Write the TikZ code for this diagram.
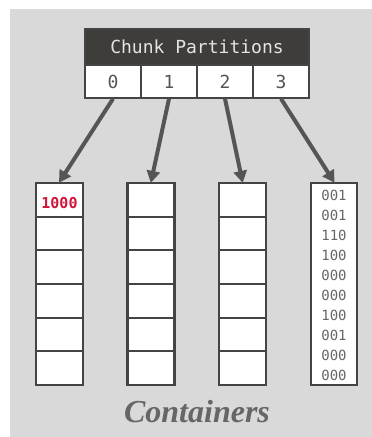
\documentclass[tikz,border=0pt]{standalone}
\usepackage{fontspec}
\usetikzlibrary{arrows.meta}
\newfontfamily\codefont{DejaVu Sans Mono}
\newfontfamily\titlefont{Liberation Serif}
\definecolor{panel}{HTML}{D9D9D9}
\definecolor{ink}{HTML}{444444}
\definecolor{headfill}{HTML}{3F3D3A}
\definecolor{headtext}{HTML}{E4E4E4}
\definecolor{digit}{HTML}{555555}
\definecolor{hot}{HTML}{D0143A}
\definecolor{caption}{HTML}{666666}
\definecolor{bits}{HTML}{666666}
\definecolor{wire}{HTML}{555555}

\begin{document}
\begin{tikzpicture}[x=1pt,y=-1pt,
  hdr/.style={draw=ink, fill=headfill, line width=1.5pt, text=headtext,
    font=\codefont\fontsize{18}{18}\selectfont,
    minimum width=224pt, minimum height=36pt, inner sep=0pt},
  pcell/.style={draw=ink, fill=white, line width=1.5pt, text=digit,
    font=\codefont\fontsize{18}{18}\selectfont,
    minimum width=56pt, minimum height=33pt, inner sep=0pt},
  slot/.style={draw=ink, fill=white, line width=2.2pt,
    minimum width=47pt, minimum height=33.67pt, inner sep=0pt},
  column/.style={draw=ink, fill=white, line width=2.2pt,
    minimum width=46pt, minimum height=202pt, inner sep=0pt},
  bitrow/.style={text=bits, font=\codefont\fontsize{14}{14}\selectfont, inner sep=0pt},
  feed/.style={draw=wire, line width=4pt,
    -{Triangle[length=12pt,width=13pt]}, shorten >=-1pt},
]
% canvas and grey panel
\useasboundingbox (0,0) rectangle (372,437);
\fill[panel] (10,9) rectangle (372,437);

% partition header and its four slots
\node[hdr] (head) at (197,47) {Chunk Partitions};
\foreach \i/\x in {0/113,1/169,2/225,3/281}
  \node[pcell] (p\i) at (\x,81.5) {\i};

% three containers of six slots each
\foreach \c/\x in {0/59.5,1/151,2/242.5}
  \foreach \k in {0,...,5}
    \node[slot] (c\c-\k) at (\x,{183+33.67*(\k+0.5)}) {};

% first entry written into container 0
\node[text=hot, font=\codefont\bfseries\fontsize{15}{15}\selectfont, inner sep=0pt]
  (entry) at ([yshift=-3pt]c0-0.center) {1000};

% fourth container holding packed bits
\node[column] (c3-0) at (334,284) {};
\foreach \k/\v in {0/001,1/001,2/110,3/100,4/000,5/000,6/100,7/001,8/000,9/000}
  \node[bitrow] (b\k) at (334,{195+20*\k}) {\v};

% partition -> container arrows
\foreach \i in {0,...,3}
  \draw[feed] (p\i.south) -- (c\i-0.north);

% caption
\node[text=caption, font=\titlefont\bfseries\itshape\fontsize{32}{32}\selectfont,
  anchor=base] (cap) at (197,422) {Containers};
\end{tikzpicture}
\end{document}
